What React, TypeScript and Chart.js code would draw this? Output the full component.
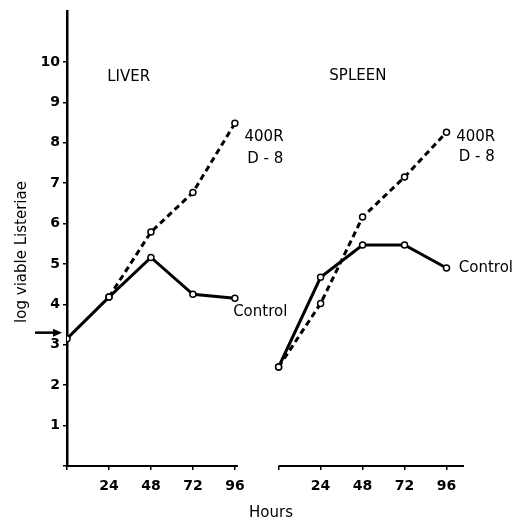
import React, { useEffect, useRef } from "react";
import { Chart, registerables } from "chart.js";

Chart.register(...registerables);

const hours = [0, 24, 48, 72, 96];
const liverControl = [3.15, 4.18, 5.16, 4.25, 4.15];
const liverIrradiated = [null, 4.18, 5.79, 6.77, 8.48];
const spleenControl = [2.45, 4.67, 5.47, 5.47, 4.9];
const spleenIrradiated = [2.45, 4.02, 6.16, 7.15, 8.26];
const inoculum = 3.3;
const yTickValues = [0, 1, 2, 3, 4, 5, 6, 7, 8, 9, 10];
const xTickHours = [0, 24, 48, 72, 96];
const SPLEEN_OFFSET = 121;
const LIVER_AXIS_END = 97.7;
const SPLEEN_AXIS_END = 106;

const FONT = "'DejaVu Sans', sans-serif";

function pts(values: (number | null)[], offset: number) {
  const out: { x: number; y: number }[] = [];
  values.forEach((v, i) => {
    if (v !== null) out.push({ x: hours[i] + offset, y: v });
  });
  return out;
}

const labels = [
  { text: "LIVER", x: 23, y: 9.63 },
  { text: "SPLEEN", x: SPLEEN_OFFSET + 29, y: 9.66 },
  { text: "400R", x: 101.5, y: 8.14 },
  { text: "D - 8", x: 103, y: 7.6 },
  { text: "400R", x: SPLEEN_OFFSET + 101.5, y: 8.14 },
  { text: "D - 8", x: SPLEEN_OFFSET + 103, y: 7.65 },
  { text: "Control", x: 95, y: 3.81 },
  { text: "Control", x: SPLEEN_OFFSET + 103, y: 4.89 },
];

const decor = {
  id: "decor",
  beforeDatasetsDraw(chart: any) {
    const ctx = chart.ctx;
    const xs = chart.scales.x;
    const ys = chart.scales.y;
    const y0 = ys.getPixelForValue(0);
    ctx.save();
    ctx.strokeStyle = "#000";
    ctx.lineWidth = 2;
    ctx.beginPath();
    ctx.moveTo(xs.getPixelForValue(0), y0);
    ctx.lineTo(xs.getPixelForValue(LIVER_AXIS_END), y0);
    ctx.moveTo(xs.getPixelForValue(SPLEEN_OFFSET), y0);
    ctx.lineTo(xs.getPixelForValue(SPLEEN_OFFSET + SPLEEN_AXIS_END), y0);
    ctx.stroke();
    ctx.restore();
  },
  afterDraw(chart: any) {
    const ctx = chart.ctx;
    const xs = chart.scales.x;
    const ys = chart.scales.y;
    ctx.save();
    ctx.fillStyle = "#000";
    ctx.font = `15px ${FONT}`;
    ctx.textBaseline = "middle";
    ctx.textAlign = "left";
    labels.forEach((l) => {
      ctx.fillText(l.text, xs.getPixelForValue(l.x), ys.getPixelForValue(l.y));
    });
    // arrow for inoculum
    const ay = ys.getPixelForValue(inoculum);
    const ax1 = chart.chartArea.left - 5;
    ctx.strokeStyle = "#000";
    ctx.lineWidth = 2.5;
    ctx.beginPath();
    ctx.moveTo(35, ay);
    ctx.lineTo(ax1 - 6, ay);
    ctx.stroke();
    ctx.beginPath();
    ctx.moveTo(ax1, ay);
    ctx.lineTo(ax1 - 9, ay - 4);
    ctx.lineTo(ax1 - 9, ay + 4);
    ctx.closePath();
    ctx.fill();
    // y title
    ctx.save();
    ctx.translate(22, 252);
    ctx.rotate(-Math.PI / 2);
    ctx.textAlign = "center";
    ctx.font = `15px ${FONT}`;
    ctx.fillText("log viable Listeriae", 0, 0);
    ctx.restore();
    // x title
    ctx.textAlign = "center";
    ctx.font = `15px ${FONT}`;
    ctx.fillText("Hours", 271, 513);
    ctx.restore();
  },
};

export default function App() {
  const ref = useRef<HTMLCanvasElement>(null);
  useEffect(() => {
    if (!ref.current) return;
    const solid = {
      borderColor: "#000",
      borderWidth: 3,
      pointRadius: 3,
      pointBorderWidth: 1.5,
      pointBackgroundColor: "#fff",
      pointBorderColor: "#000",
      fill: false,
      tension: 0,
    };
    const dashed = { ...solid, borderDash: [6, 4] };
    const chart = new Chart(ref.current, {
      type: "line",
      data: {
        datasets: [
          { label: "Liver 400R D-8", data: pts(liverIrradiated, 0), ...dashed },
          { label: "Liver Control", data: pts(liverControl, 0), ...solid },
          { label: "Spleen 400R D-8", data: pts(spleenIrradiated, SPLEEN_OFFSET), ...dashed },
          { label: "Spleen Control", data: pts(spleenControl, SPLEEN_OFFSET), ...solid },
        ] as any,
      },
      options: {
        animation: false,
        responsive: true,
        maintainAspectRatio: false,
        layout: { padding: { left: 0, right: 65, top: 6, bottom: 0 } },
        plugins: { legend: { display: false }, tooltip: { enabled: false } },
        scales: {
          x: {
            type: "linear",
            min: 0,
            max: SPLEEN_OFFSET + SPLEEN_AXIS_END,
            afterBuildTicks: (s: any) => {
              s.ticks = [
                ...xTickHours.map((h) => ({ value: h })),
                ...xTickHours.map((h) => ({ value: h + SPLEEN_OFFSET })),
              ];
            },
            afterFit: (s: any) => {
              s.height = 59;
            },
            ticks: {
              autoSkip: false,
              maxRotation: 0,
              padding: 8,
              color: "#000",
              font: { family: FONT, size: 14, weight: "bold" },
              callback: (v: any) => {
                const h = v >= SPLEEN_OFFSET ? v - SPLEEN_OFFSET : v;
                return h === 0 ? "" : String(h);
              },
            },
            grid: { drawOnChartArea: false, tickLength: 4, color: "#000", lineWidth: 1.5 },
            border: { display: false },
          },
          y: {
            min: 0,
            max: 11.25,
            afterBuildTicks: (s: any) => {
              s.ticks = yTickValues.map((v) => ({ value: v }));
            },
            afterFit: (s: any) => {
              s.width = 67;
            },
            ticks: {
              padding: 3,
              color: "#000",
              font: { family: FONT, size: 14, weight: "bold" },
              callback: (v: any) => (v === 0 ? "" : String(v)),
            },
            grid: { drawOnChartArea: false, tickLength: 4, color: "#000", lineWidth: 1.5 },
            border: { display: true, color: "#000", width: 2.5 },
          },
        },
      },
      plugins: [decor],
    });
    return () => chart.destroy();
  }, []);
  return (
    <div style={{ position: "fixed", left: 0, top: 0, width: 529, height: 525, background: "#fff" }}>
      <canvas ref={ref} />
    </div>
  );
}
